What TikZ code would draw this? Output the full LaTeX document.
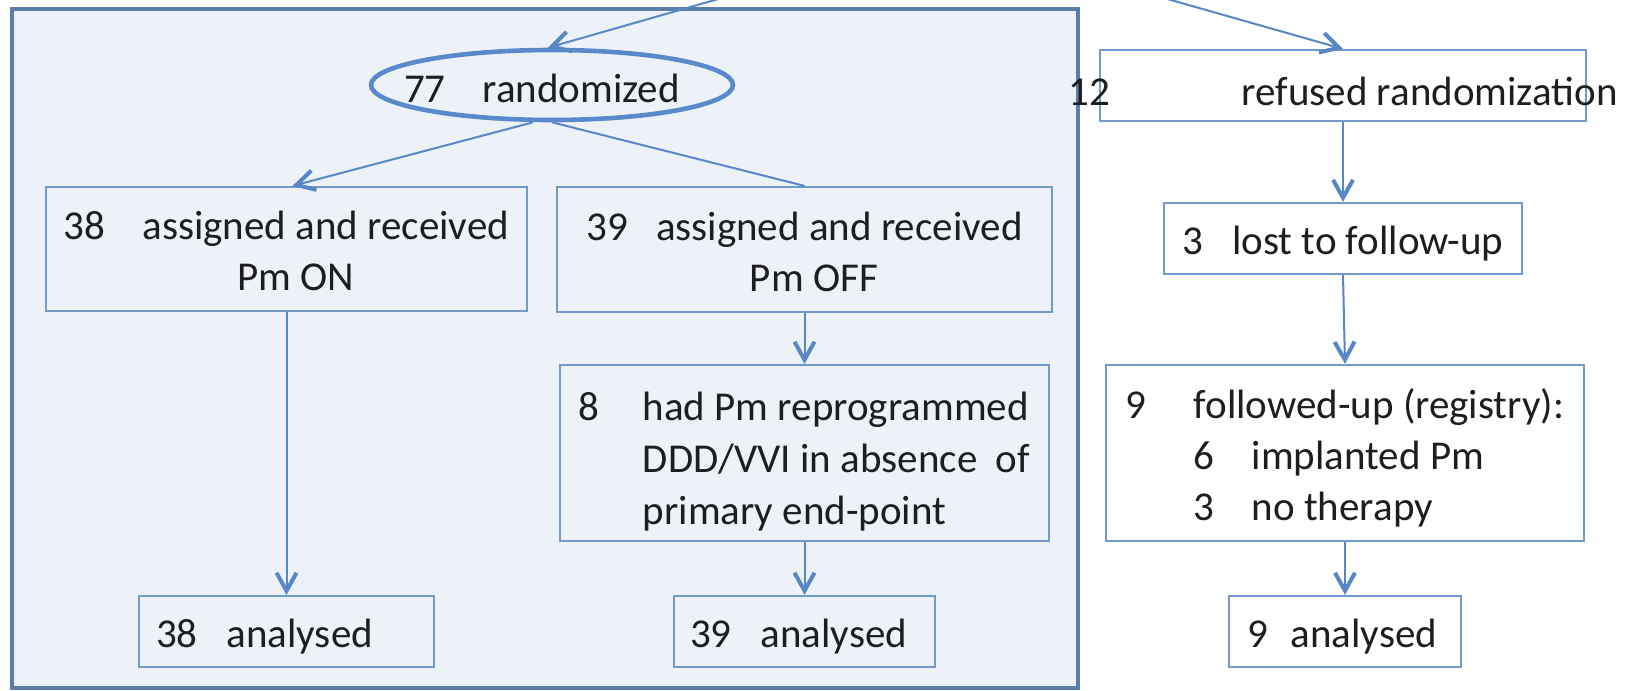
\documentclass[tikz,border=0pt]{standalone}
\usepackage{fontspec}
\setmainfont{Carlito}
\usetikzlibrary{arrows.meta,shapes.geometric}
\definecolor{linec}{HTML}{5787C6}
\definecolor{boxc}{HTML}{729ACB}
\definecolor{framec}{HTML}{5B7EA8}
\definecolor{framefill}{HTML}{EDF2F8}
\definecolor{ellc}{HTML}{5A8ACB}
\definecolor{txt}{HTML}{1E1E1E}
% lower a text block without changing its size
\newcommand\lowtext[2]{\raisebox{-#1}[\height][\depth]{#2}}
\tikzset{
  frame/.style={draw=framec, fill=framefill, line width=2pt, inner sep=0pt},
  box/.style={draw=boxc, line width=1.1pt, inner sep=0pt, text=txt},
  wbox/.style={box, fill=white},
  ovalbox/.style={ellipse, draw=ellc, line width=2.3pt, inner sep=0pt, text=txt},
  link/.style={draw=linec, line width=1pt},
  arr/.style={link, -{Straight Barb[length=9pt,width=10pt,line width=2pt]}},
}
\begin{document}
\begin{tikzpicture}[x=0.5pt, y=-0.5pt, font=\fontsize{20.5}{25.5}\selectfont]
\useasboundingbox (0,0) rectangle (1629,691);
\clip (0,0) rectangle (1629,691);
\fill[white] (0,0) rectangle (1629,691);

% randomized group
\node[frame, minimum width=533pt, minimum height=339.5pt] (grp) at (545,348.5) {};

% common origin above the chart
\coordinate (src) at (942,-65);

% nodes
\node[ovalbox, minimum width=181pt, minimum height=35pt] (rand) at (552,85)
  {\lowtext{1.5pt}{\makebox[0pt]{77\hspace{18.5pt}randomized\hspace{10pt}}}};
\node[box, minimum width=240.5pt, minimum height=62pt] (on) at (286.5,249)
  {\lowtext{3pt}{\makebox[0pt]{\begin{tabular}{@{}c@{}}38\hspace{18.5pt}assigned and received\\\hspace{9.5pt}Pm ON\end{tabular}}}};
\node[box, minimum width=247.5pt, minimum height=62.5pt] (off) at (804.5,249.5)
  {\lowtext{3.25pt}{\makebox[0pt]{\begin{tabular}{@{}c@{}}39\hspace{14pt}assigned and received\hspace{12.5pt}\\\hspace{9.5pt}Pm OFF\end{tabular}}}};
\node[box, minimum width=244.5pt, minimum height=88pt] (rep) at (804.5,453)
  {\lowtext{4.5pt}{\fontsize{20.5}{26}\selectfont\makebox[0pt]{\begin{tabular}{@{}l@{}l@{}}\makebox[32pt][l]{8} & had Pm reprogrammed\\ & DDD/VVI in absence\ \ of\\ & primary end-point\end{tabular}}}};
\node[box] (anon) at (286.5,631.5)
  {\lowtext{2.75pt}{\parbox[c][35.5pt][c]{147.5pt}{\hspace*{8.5pt}38\hspace{14.5pt}analysed}}};
\node[box] (anoff) at (804.5,631.5)
  {\lowtext{2.75pt}{\parbox[c][35.5pt][c]{130.5pt}{\hspace*{8pt}39\hspace{14.5pt}analysed}}};

\node[wbox, minimum width=243pt, minimum height=35.5pt] (ref) at (1343,85.5)
  {\lowtext{2.75pt}{\makebox[0pt]{12\hspace{66pt}refused randomization}}};
\node[wbox, minimum width=179pt, minimum height=35.5pt] (lost) at (1343,238.5)
  {\lowtext{2.5pt}{\makebox[0pt]{3\hspace{14.5pt}lost to follow-up}}};
\node[wbox, minimum width=239pt, minimum height=88pt] (reg) at (1345,453)
  {\lowtext{3.25pt}{\makebox[0pt]{\begin{tabular}{@{}l@{}l@{}l@{}}\makebox[34pt][l]{9} & \multicolumn{2}{@{}l@{}}{followed-up (registry):}\\ & \makebox[29pt][l]{6} & implanted Pm\\ & 3 & no therapy\end{tabular}}}};
\node[wbox] (anreg) at (1345,631.5)
  {\lowtext{2.75pt}{\parbox[c][35.5pt][c]{116pt}{\hspace*{9pt}9\hspace{11.5pt}analysed}}};

% connectors
\draw[arr] (src) -- ([xshift=-2pt]rand.north);
\draw[arr] (src) -- (ref.north);
\draw[arr] ([xshift=-9.5pt]rand.south) -- ([xshift=3pt]on.north);
\draw[link] (rand.south) -- (off.north);
\draw[arr] (on.south) -- (anon.north);
\draw[arr] (off.south) -- (rep.north);
\draw[arr] (rep.south) -- (anoff.north);
\draw[arr] (ref.south) -- (lost.north);
\draw[arr] (lost.south) -- (reg.north);
\draw[arr] (reg.south) -- (anreg.north);
\end{tikzpicture}
\end{document}
